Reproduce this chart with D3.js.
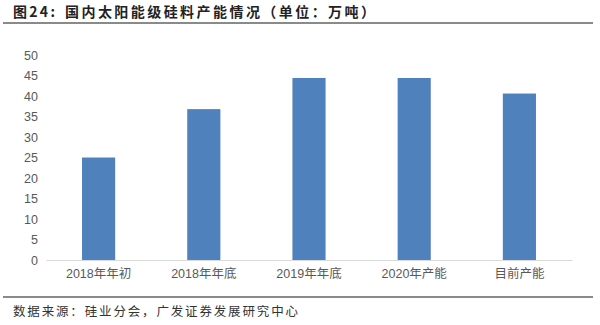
<!DOCTYPE html>
<html><head><meta charset="utf-8">
<script src="https://cdn.jsdelivr.net/npm/d3@7"></script>
<style>body{margin:0;background:#fff;}svg{display:block;}</style>
</head><body>
<script>
const categories = ["2018年年初", "2018年年底", "2019年年底", "2020年产能", "目前产能"];
const values = [25, 36.8, 44.4, 44.4, 40.6];
const yTicks = [0, 5, 10, 15, 20, 25, 30, 35, 40, 45, 50];
const titleLabel = "图24:";
const title = "国内太阳能级硅料产能情况（单位：万吨）";
const source = "数据来源：硅业分会，广发证券发展研究中心";

const W = 600, H = 325;
const svg = d3.select("body").append("svg").attr("width", W).attr("height", H);
const font = "'Liberation Sans', Arial, 'Noto Sans CJK SC', sans-serif";
const cjk = "'Noto Sans CJK SC', sans-serif";

// Title
svg.append("text").attr("x", 13).attr("y", 17)
  .attr("font-family", cjk).attr("font-weight", "bold")
  .attr("font-size", 14).attr("fill", "#222")
  .attr("textLength", 42).attr("lengthAdjust", "spacing").text(titleLabel);
svg.append("text").attr("x", 65).attr("y", 17)
  .attr("font-family", cjk).attr("font-weight", "bold")
  .attr("font-size", 14).attr("fill", "#222")
  .attr("textLength", 310).attr("lengthAdjust", "spacing").text(title);
svg.append("line").attr("x1", 3).attr("x2", 593).attr("y1", 23).attr("y2", 23)
  .attr("stroke", "#8a8a8a").attr("stroke-width", 2);

const x = d3.scaleBand().domain(categories).range([46, 572]).paddingInner(0.685).paddingOuter(0.3425);
const y = d3.scaleLinear().domain([0, 50]).range([260, 55]);

// Y axis labels
const ya = svg.append("g").attr("transform", "translate(38,0)")
  .call(d3.axisLeft(y).tickValues(yTicks).tickSize(0).tickPadding(0));
ya.select(".domain").remove();
ya.selectAll("text").attr("font-family", font).attr("font-size", 12.5).attr("fill", "#595959");

// Bars
svg.append("g").selectAll("rect").data(values).join("rect")
  .attr("x", (d, i) => x(categories[i]))
  .attr("y", d => y(d))
  .attr("width", x.bandwidth())
  .attr("height", d => y(0) - y(d))
  .attr("fill", "#4f81bd");

// X axis
const xa = svg.append("g").attr("transform", "translate(0,260)")
  .call(d3.axisBottom(x).tickSize(0).tickPadding(9));
xa.select(".domain").attr("stroke", "#d9d9d9").attr("stroke-width", 1.2);
xa.selectAll("text").attr("font-family", font).attr("font-size", 12.5).attr("fill", "#595959");

// Footer
svg.append("line").attr("x1", 3).attr("x2", 593).attr("y1", 297).attr("y2", 297)
  .attr("stroke", "#8a8a8a").attr("stroke-width", 2);
svg.append("text").attr("x", 13).attr("y", 316)
  .attr("font-family", cjk)
  .attr("font-size", 12.5).attr("fill", "#333")
  .attr("textLength", 285).attr("lengthAdjust", "spacing").text(source);
</script>
</body></html>
